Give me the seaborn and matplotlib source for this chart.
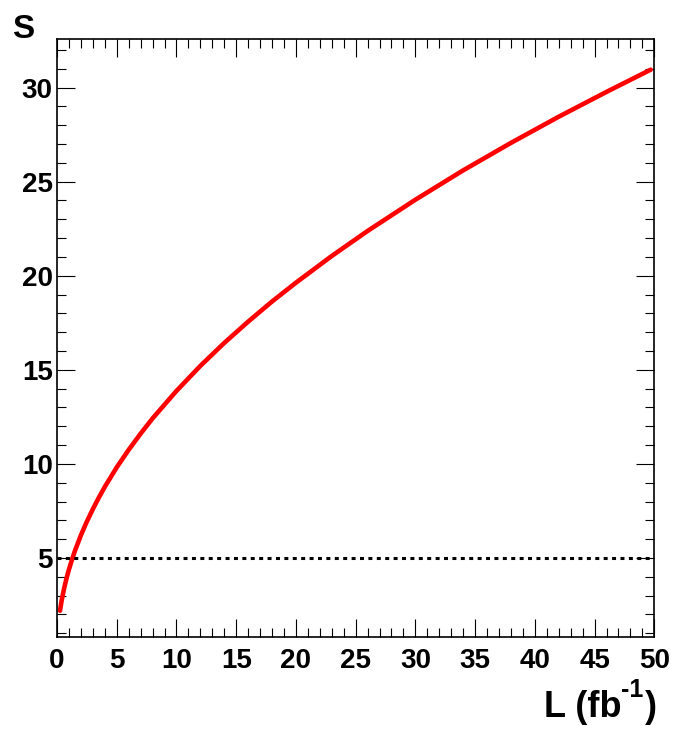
import matplotlib
matplotlib.use("Agg")
import matplotlib.pyplot as plt
import seaborn as sns
import pandas as pd
from matplotlib.ticker import MultipleLocator

# Data
lumi = [0.25, 0.4, 0.6, 0.8, 1.0, 1.25, 1.5, 2, 2.5, 3, 3.5, 4, 5, 6, 7, 8, 10, 12,
        14, 16, 18, 20, 23, 26, 30, 34, 38, 42, 46, 49.7]
signif = [2.20, 2.78, 3.40, 3.93, 4.39, 4.91, 5.38, 6.21, 6.94, 7.60, 8.21, 8.78,
          9.82, 10.75, 11.61, 12.42, 13.88, 15.21, 16.43, 17.56, 18.63, 19.63,
          21.05, 22.38, 24.04, 25.60, 27.06, 28.45, 29.77, 30.95]
threshold = 5
x_range = [0, 50]
y_range = [0.82, 32.58]

sns.set_theme(style="white")
plt.rcParams["font.family"] = ["Liberation Sans", "DejaVu Sans"]
plt.rcParams["font.weight"] = "bold"
plt.rcParams["text.color"] = "black"
plt.rcParams["xtick.color"] = "black"
plt.rcParams["ytick.color"] = "black"
plt.rcParams["axes.edgecolor"] = "black"

W, H = 675, 729
fig = plt.figure(figsize=(W/100, H/100), dpi=100)
ax = fig.add_axes([57/W, 1-636.7/H, (654.3-57)/W, (636.7-39)/H])

df = pd.DataFrame({"L": lumi, "S": signif})
sns.lineplot(data=df, x="L", y="S", ax=ax, color="#ff0000", linewidth=3.3)
ax.plot(x_range, [threshold, threshold], color="black", linewidth=2.2,
        linestyle=(0, (1.3, 1.45)), dash_capstyle="butt")

ax.set_xlim(*x_range)
ax.set_ylim(*y_range)
ax.set_xlabel("")
ax.set_ylabel("")

ax.xaxis.set_major_locator(MultipleLocator(5))
ax.xaxis.set_minor_locator(MultipleLocator(1))
ax.yaxis.set_major_locator(MultipleLocator(5))
ax.yaxis.set_minor_locator(MultipleLocator(1))
ax.tick_params(which="both", direction="in", top=True, right=True,
               bottom=True, left=True, width=0.8, color="black")
ax.tick_params(which="major", length=13)
ax.tick_params(which="minor", length=6.5)
ax.tick_params(axis="x", which="major", pad=8, labelsize=20, labelcolor="black")
ax.tick_params(axis="y", which="major", pad=3, labelsize=20, labelcolor="black")
for lab in ax.get_xticklabels() + ax.get_yticklabels():
    lab.set_fontweight("bold")
for sp in ax.spines.values():
    sp.set_color("black")
    sp.set_linewidth(1.2)

fig.text(12/W, 1-38/H, "S", fontsize=24, fontweight="bold",
         ha="left", va="baseline")
fig.text(544/W, 1-717/H, "L (fb", fontsize=26, fontweight="bold",
         ha="left", va="baseline")
fig.text(621/W, 1-697/H, "-1", fontsize=18, fontweight="bold",
         ha="left", va="baseline")
fig.text(645/W, 1-717/H, ")", fontsize=26, fontweight="bold",
         ha="left", va="baseline")

fig.savefig("out.png", dpi=100)
